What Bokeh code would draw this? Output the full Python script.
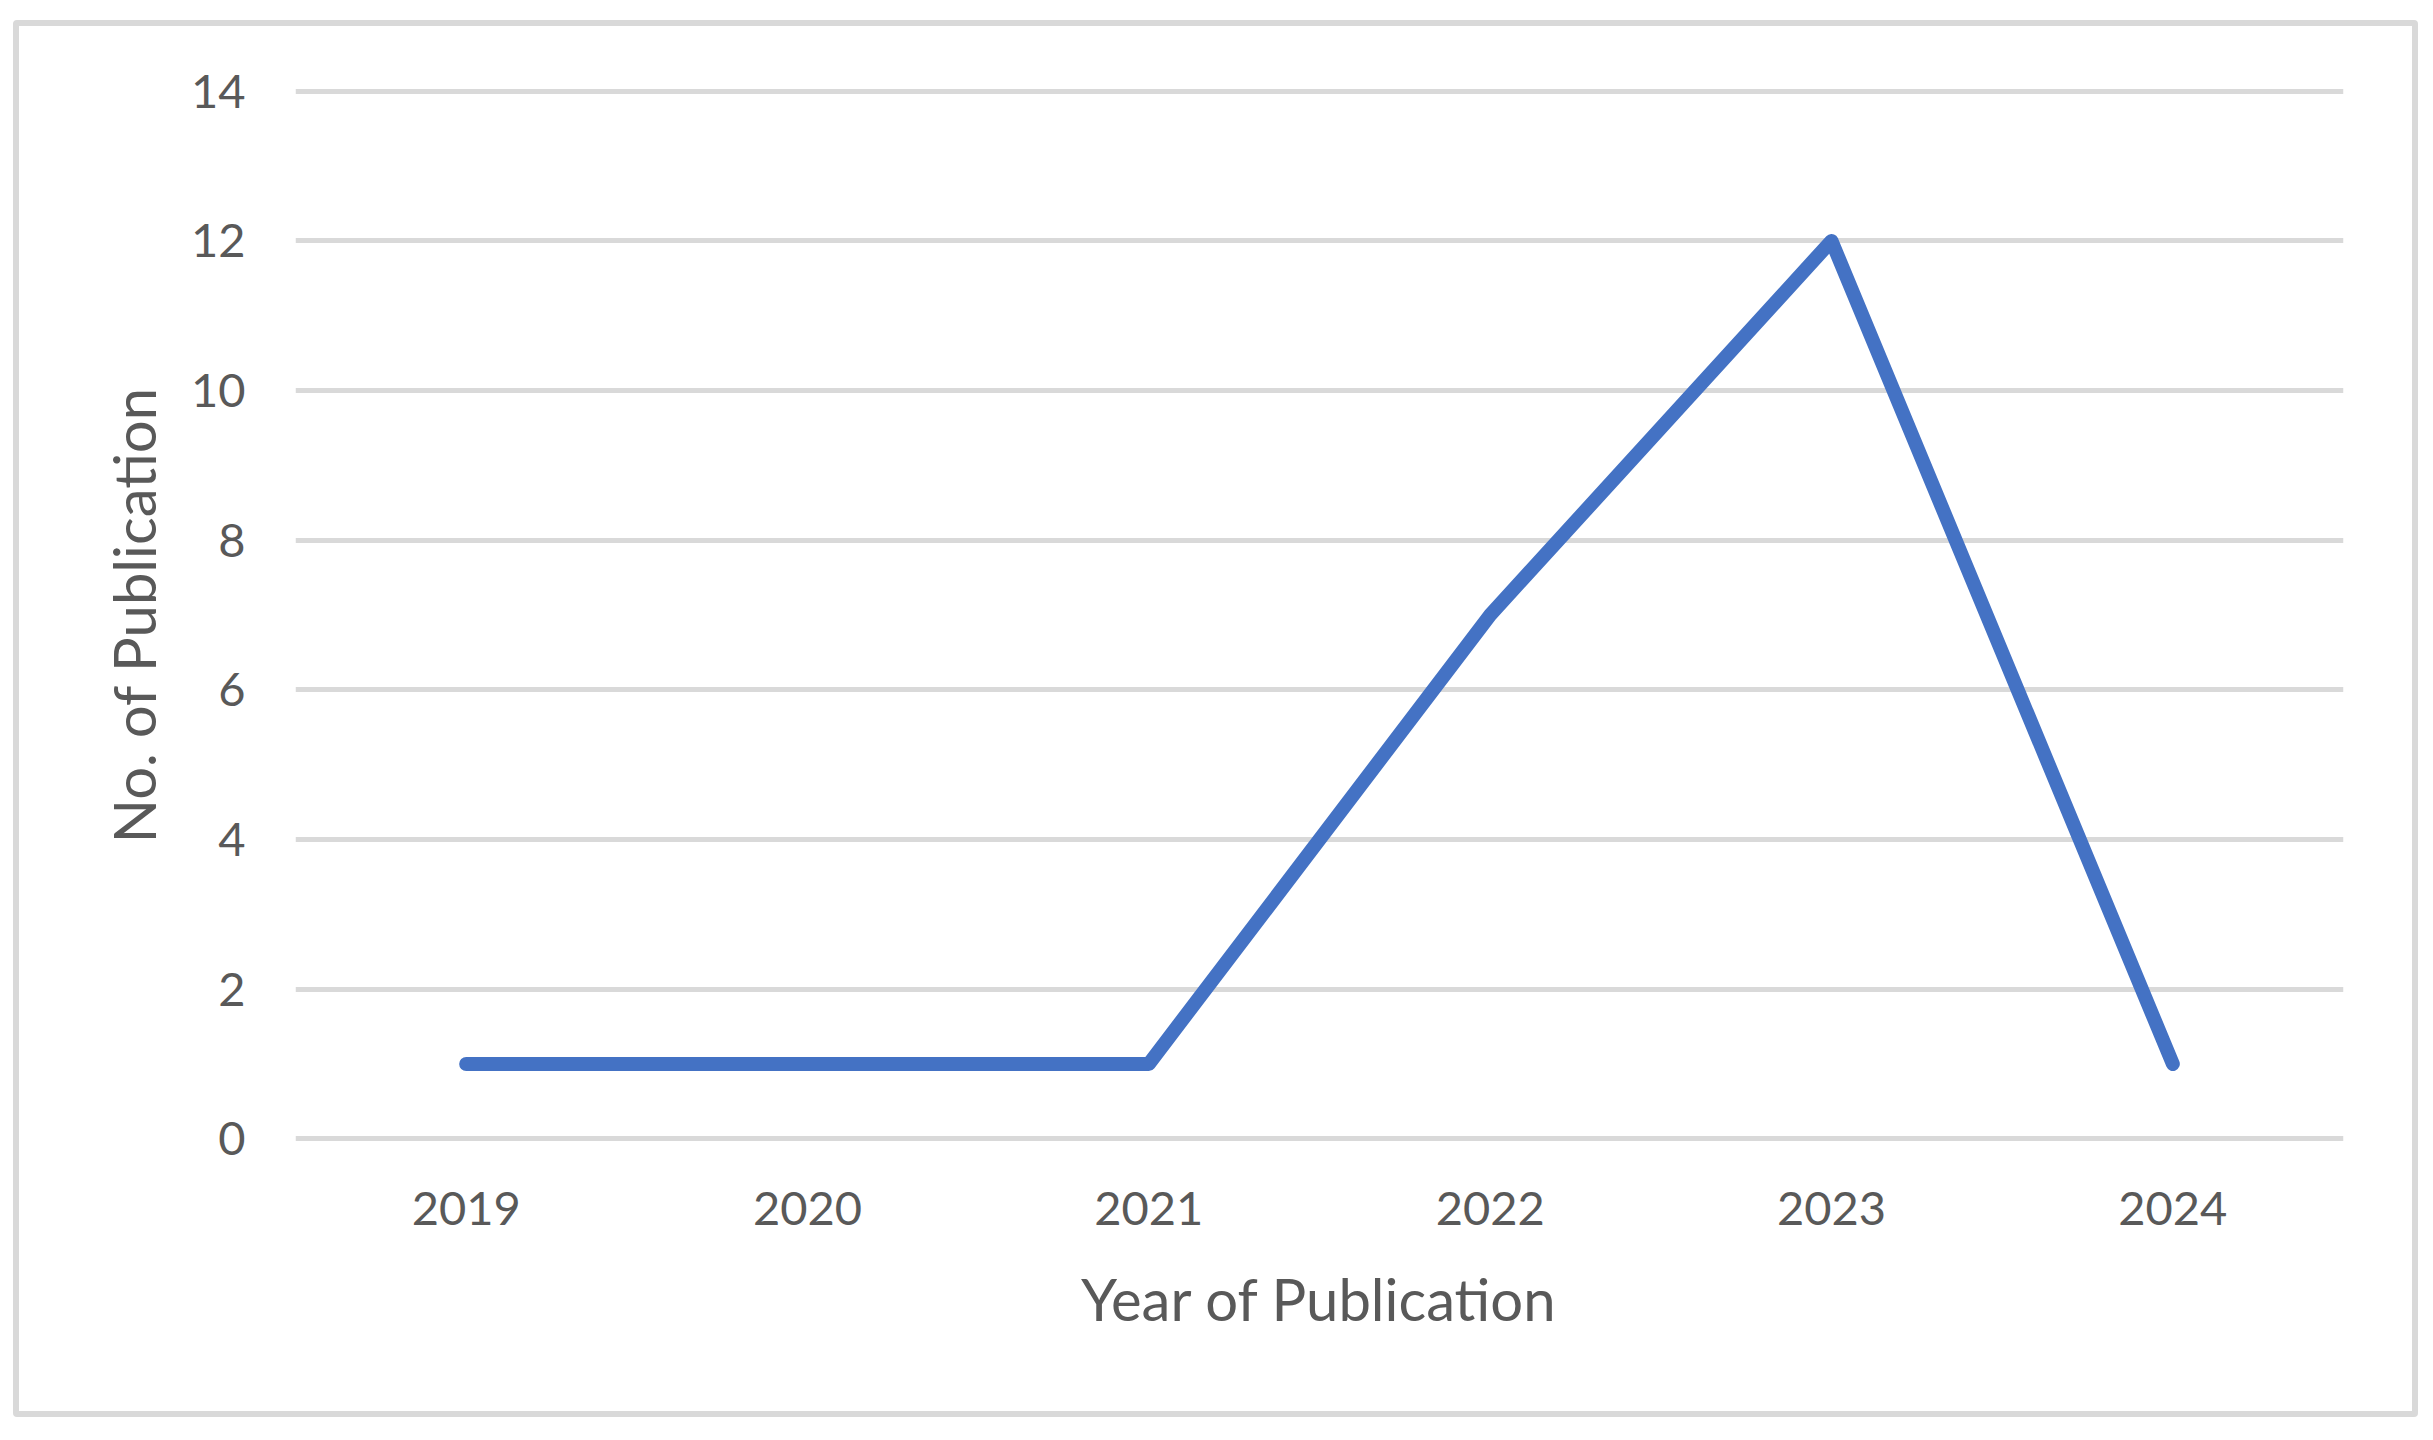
from bokeh.plotting import figure
from bokeh.models import FixedTicker, Range1d, InlineStyleSheet
from bokeh.embed import file_html
from bokeh.resources import INLINE

years = ["2019", "2020", "2021", "2022", "2023", "2024"]
publications = [1, 1, 1, 7, 12, 1]
y_ticks = [0, 2, 4, 6, 8, 10, 12, 14]

TEXT = "#595959"
GRID = "#D9D9D9"
FONT = "Lato"

p = figure(
    x_range=years,
    y_range=Range1d(-0.05, 14.05),
    width=2433,
    height=1440,
    output_backend="svg",
    toolbar_location=None,
    min_border_left=295,
    min_border_right=90,
    min_border_top=87,
    min_border_bottom=298,
)
# light-grey chart-area border drawn over the canvas
p.stylesheets = [InlineStyleSheet(css="""
:host::after {
  content: "";
  position: absolute;
  left: 13px;
  top: 20px;
  width: 2405px;
  height: 1397px;
  box-sizing: border-box;
  border: 6px solid #D9D9D9;
  border-radius: 4px;
  pointer-events: none;
  z-index: 100;
}
""")]
p.outline_line_color = None
p.background_fill_color = "white"
p.border_fill_color = "white"
p.x_range.range_padding = 0

p.line(years, publications, line_color="#4472C4", line_width=14,
       line_cap="round", line_join="round")

p.xgrid.visible = False
p.ygrid.ticker = FixedTicker(ticks=y_ticks)
p.ygrid.grid_line_color = GRID
p.ygrid.grid_line_width = 5

p.yaxis.ticker = FixedTicker(ticks=y_ticks)
for ax in (p.xaxis[0], p.yaxis[0]):
    ax.axis_line_color = None
    ax.major_tick_line_color = None
    ax.minor_tick_line_color = None
    ax.major_tick_out = 0
    ax.major_tick_in = 0
    ax.minor_tick_out = 0
    ax.major_label_text_font = FONT
    ax.major_label_text_font_size = "47px"
    ax.major_label_text_color = TEXT
    ax.axis_label_text_font = FONT
    ax.axis_label_text_font_size = "58px"
    ax.axis_label_text_color = TEXT
    ax.axis_label_text_font_style = "normal"

p.xaxis.axis_label = "Year of Publication"
p.yaxis.axis_label = "No. of Publication"
p.xaxis.major_label_standoff = 49
p.xaxis.axis_label_standoff = 36
p.yaxis.major_label_standoff = 50
p.yaxis.axis_label_standoff = 20

open("out.html", "w").write(file_html(p, INLINE))
